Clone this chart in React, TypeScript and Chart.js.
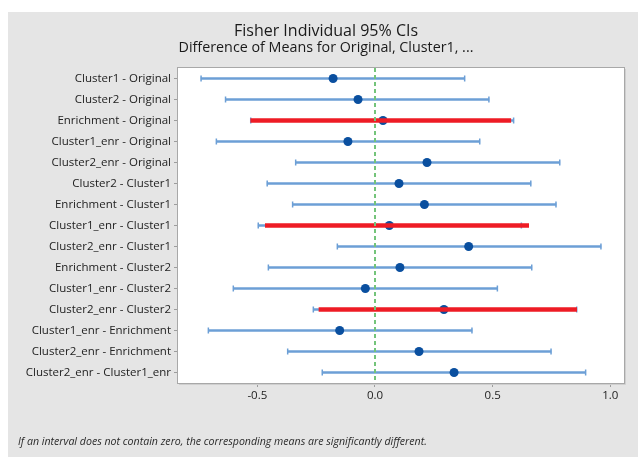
import React, { useEffect, useRef } from 'react';
import { Chart, registerables } from 'chart.js';

Chart.register(...registerables);

const titleText = 'Fisher Individual 95% CIs';
const subtitleText = 'Difference of Means for Original, Cluster1, ...';
const footnoteText = 'If an interval does not contain zero, the corresponding means are significantly different.';

const categories = [
  'Cluster1 - Original',
  'Cluster2 - Original',
  'Enrichment - Original',
  'Cluster1_enr - Original',
  'Cluster2_enr - Original',
  'Cluster2 - Cluster1',
  'Enrichment - Cluster1',
  'Cluster1_enr - Cluster1',
  'Cluster2_enr - Cluster1',
  'Enrichment - Cluster2',
  'Cluster1_enr - Cluster2',
  'Cluster2_enr - Cluster2',
  'Cluster1_enr - Enrichment',
  'Cluster2_enr - Enrichment',
  'Cluster2_enr - Cluster1_enr',
];

const means = [-0.178, -0.072, 0.034, -0.115, 0.221, 0.102, 0.21, 0.061, 0.398, 0.106, -0.041, 0.293, -0.15, 0.187, 0.336];
const lows = [-0.739, -0.635, -0.528, -0.674, -0.337, -0.458, -0.35, -0.496, -0.16, -0.453, -0.602, -0.262, -0.708, -0.371, -0.224];
const highs = [0.381, 0.484, 0.589, 0.445, 0.785, 0.662, 0.769, 0.622, 0.96, 0.666, 0.52, 0.857, 0.412, 0.748, 0.895];

const redLows = [null, null, -0.528, null, null, null, null, -0.466, null, null, null, -0.238, null, null, null];
const redHighs = [null, null, 0.577, null, null, null, null, 0.653, null, null, null, 0.857, null, null, null];

const xTickValues = [-0.5, 0, 0.5, 1.0];
const xMin = -0.837;
const xMax = 1.058;
const referenceValue = 0;

const FONT = "'Open Sans', 'Noto Sans', sans-serif";

export default function App() {
  const ref = useRef<HTMLCanvasElement>(null);

  useEffect(() => {
    const canvas = ref.current;
    if (!canvas) return;

    const framePlugin = {
      id: 'frame',
      beforeDraw(chart: any) {
        const { ctx, chartArea: a, width, height } = chart;
        ctx.save();
        ctx.fillStyle = '#e5e5e5';
        ctx.fillRect(0, 0, width, height);
        ctx.fillStyle = '#ffffff';
        ctx.fillRect(a.left, a.top, a.right - a.left, a.bottom - a.top);
        ctx.restore();
      },
      afterDatasetsDraw(chart: any) {
        const { ctx, chartArea: a } = chart;
        const x = Math.round(chart.scales.x.getPixelForValue(referenceValue));
        ctx.save();
        ctx.strokeStyle = '#74c47a';
        ctx.lineWidth = 2;
        ctx.setLineDash([4, 3]);
        ctx.beginPath();
        ctx.moveTo(x, a.top);
        ctx.lineTo(x, a.bottom);
        ctx.stroke();
        ctx.restore();
      },
      afterDraw(chart: any) {
        const { ctx, chartArea: a } = chart;
        ctx.save();
        // plot frame with soft shadow
        ctx.strokeStyle = '#cfcfcf';
        ctx.lineWidth = 1;
        ctx.beginPath();
        ctx.moveTo(a.right + 1.5, a.top + 1);
        ctx.lineTo(a.right + 1.5, a.bottom + 1.5);
        ctx.lineTo(a.left + 1, a.bottom + 1.5);
        ctx.stroke();
        ctx.strokeStyle = '#a8a8a8';
        ctx.strokeRect(a.left - 0.5, a.top - 0.5, a.right - a.left + 1, a.bottom - a.top + 1);

        // titles
        ctx.fillStyle = '#1a1a1a';
        ctx.textAlign = 'center';
        ctx.textBaseline = 'alphabetic';
        ctx.font = `16px ${FONT}`;
        ctx.fillText(titleText, 318, 24);
        ctx.font = `14.3px ${FONT}`;
        ctx.fillText(subtitleText, 318, 40);

        // footnote
        ctx.fillStyle = '#2a2a2a';
        ctx.textAlign = 'left';
        ctx.font = `italic 10.6px ${FONT}`;
        ctx.fillText(footnoteText, 10, 433);
        ctx.restore();
      },
    };

    const blue = '#6c9fd6';
    const capData: any[] = [];
    categories.forEach((c, i) => {
      capData.push({ x: lows[i], y: c });
      capData.push({ x: highs[i], y: c });
    });

    const chart = new Chart(canvas, {
      type: 'bar',
      data: {
        labels: categories,
        datasets: [
          {
            type: 'bar',
            label: 'Red',
            data: redLows.map((l, i) => (l === null ? null : [l, redHighs[i] as number])) as any,
            backgroundColor: '#ee1c25',
            barThickness: 4,
            grouped: false,
            borderWidth: 0,
            order: 0,
          } as any,
          {
            type: 'scatter',
            label: 'Mean',
            data: categories.map((c, i) => ({ x: means[i], y: c })) as any,
            pointStyle: 'circle',
            pointRadius: 4.5,
            pointBackgroundColor: '#0a4f9f',
            pointBorderWidth: 0,
            showLine: false,
            order: 1,
          } as any,
          {
            type: 'scatter',
            label: 'Caps',
            data: capData,
            pointStyle: 'line',
            pointRotation: 90,
            pointRadius: 3,
            pointBorderColor: blue,
            pointBorderWidth: 1.5,
            showLine: false,
            order: 2,
          } as any,
          {
            type: 'bar',
            label: 'CI',
            data: lows.map((l, i) => [l, highs[i]]) as any,
            backgroundColor: blue,
            barThickness: 2,
            grouped: false,
            borderWidth: 0,
            order: 3,
          } as any,
        ],
      },
      options: {
        indexAxis: 'y',
        responsive: false,
        animation: false,
        events: [],
        layout: { padding: { top: 56, right: 14, left: 0, bottom: 0 } },
        plugins: {
          legend: { display: false },
          tooltip: { enabled: false },
          title: { display: false },
        },
        scales: {
          x: {
            type: 'linear',
            min: xMin,
            max: xMax,
            afterBuildTicks: (scale: any) => {
              scale.ticks = xTickValues.map((v) => ({ value: v }));
            },
            afterFit: (scale: any) => {
              scale.height = 74;
            },
            ticks: {
              color: '#222222',
              font: { family: FONT, size: 11.5 },
              padding: 2,
              callback: (v: any) => Number(v).toFixed(1),
            },
            grid: {
              display: true,
              drawOnChartArea: false,
              drawTicks: true,
              tickLength: 4,
              tickColor: '#9c9c9c',
            },
            border: { display: false },
          },
          y: {
            type: 'category',
            offset: true,
            afterFit: (scale: any) => {
              scale.width = 170;
            },
            ticks: {
              color: '#222222',
              font: { family: FONT, size: 11.5 },
              padding: 3,
              autoSkip: false,
            },
            grid: {
              display: true,
              drawOnChartArea: false,
              drawTicks: true,
              tickLength: 4,
              tickColor: '#9c9c9c',
              offset: false,
            },
            border: { display: false },
          },
        },
      } as any,
      plugins: [framePlugin],
    });

    return () => chart.destroy();
  }, []);

  return (
    <div style={{ position: 'fixed', left: 8, top: 12, width: 630, height: 445 }}>
      <canvas ref={ref} width={630} height={445} style={{ display: 'block', width: 630, height: 445 }} />
    </div>
  );
}
